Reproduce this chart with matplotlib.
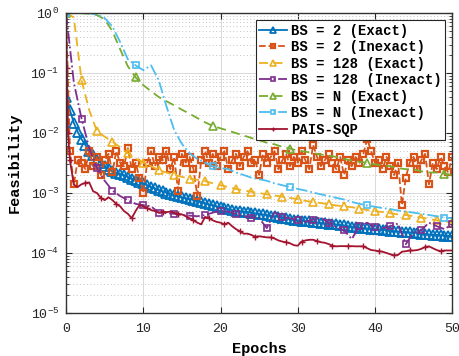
import numpy as np
import matplotlib
matplotlib.use("Agg")
import matplotlib.pyplot as plt
from matplotlib.ticker import LogLocator, FixedLocator

plt.rcParams['font.family'] = ['Liberation Mono', 'DejaVu Sans Mono']
plt.rcParams['mathtext.default'] = 'regular'

# epochs grids
epochs = np.arange(0, 51)
half_epochs = np.arange(0, 50.01, 0.5)
red_epochs = np.concatenate(([0, 0.1, 0.25], np.arange(0.5, 50.01, 0.5)))

# BS = 2 (Exact), half-epoch resolution
bs2_exact = [
    0.0407, 0.024, 0.0148, 0.0105, 0.0079, 0.0063, 0.0051, 0.0043, 0.0036, 0.0032,
    0.0028, 0.0025, 0.00234, 0.00219, 0.00209, 0.002, 0.00186, 0.00174, 0.00166, 0.00155,
    0.00145, 0.00135, 0.00126, 0.0012, 0.00112, 0.00107, 0.00102, 0.00098, 0.00093, 0.00089,
    0.00085, 0.00082, 0.00079, 0.00077, 0.00074, 0.00071, 0.00068, 0.00065, 0.00063, 0.0006,
    0.00058, 0.00056, 0.00054, 0.00052, 0.00051, 0.0005, 0.00049, 0.00048, 0.00047, 0.00046,
    0.00045, 0.00044, 0.00043, 0.00042, 0.00041, 0.0004, 0.00039, 0.00038, 0.00037, 0.00036,
    0.00035, 0.000347, 0.00034, 0.000335, 0.00033, 0.000324, 0.000316, 0.000313, 0.00031, 0.000305,
    0.0003, 0.000295, 0.00029, 0.00028, 0.000275, 0.00027, 0.000263, 0.00026, 0.000257, 0.000254,
    0.00025, 0.000248, 0.000245, 0.00024, 0.000234, 0.000232, 0.000229, 0.000226, 0.000224, 0.000221,
    0.000219, 0.000214, 0.000209, 0.000207, 0.000204, 0.000202, 0.0002, 0.000197, 0.000195, 0.000193,
    0.00019,
]

# BS = 2 (Inexact), half-epoch resolution
bs2_inexact = [
    1.0, 0.005, 0.0014, 0.0035, 0.0032, 0.0025, 0.005, 0.0028, 0.004, 0.002,
    0.0035, 0.0045, 0.0022, 0.005, 0.0032, 0.0028, 0.0056, 0.0025, 0.0032, 0.0018,
    0.001, 0.0032, 0.005, 0.0028, 0.004, 0.0035, 0.005, 0.0025, 0.004, 0.0011,
    0.0045, 0.0032, 0.004, 0.0025, 0.0009, 0.0035, 0.005, 0.0032, 0.0045, 0.0028,
    0.004, 0.005, 0.0025, 0.0035, 0.0045, 0.0028, 0.004, 0.005, 0.0032, 0.0035,
    0.002, 0.0045, 0.0032, 0.004, 0.005, 0.0025, 0.0035, 0.0045, 0.0028, 0.004,
    0.0032, 0.005, 0.0035, 0.0025, 0.0063, 0.004, 0.0028, 0.0035, 0.0045, 0.0032,
    0.0025, 0.004, 0.002, 0.0035, 0.0028, 0.004, 0.0032, 0.0045, 0.008, 0.005,
    0.0032, 0.0035, 0.0025, 0.004, 0.0028, 0.002, 0.0032, 0.00063, 0.0018, 0.0032,
    0.004, 0.0025, 0.0035, 0.0045, 0.0014, 0.0032, 0.0025, 0.004, 0.0028, 0.0022,
    0.004,
]

# BS = 128 (Exact), per epoch
bs128_exact = [
    1.0, 0.85, 0.076, 0.024, 0.0107, 0.0087, 0.0072, 0.0058, 0.0046, 0.0038,
    0.0032, 0.0028, 0.0024, 0.0022, 0.002, 0.00186, 0.00174, 0.00166, 0.00158, 0.00145,
    0.00135, 0.00126, 0.00117, 0.0011, 0.00105, 0.001, 0.00095, 0.00091, 0.00087, 0.00083,
    0.00079, 0.00074, 0.00071, 0.00068, 0.00065, 0.00062, 0.0006, 0.00058, 0.00055, 0.00052,
    0.0005, 0.00048, 0.00046, 0.00044, 0.00043, 0.00041, 0.00039, 0.00037, 0.00035, 0.00034,
    0.00032,
]

# BS = 128 (Inexact), per epoch
bs128_inexact = [
    1.0, 0.07, 0.0174, 0.0056, 0.0026, 0.0016, 0.0011, 0.00089, 0.00076, 0.00066,
    0.00063, 0.0006, 0.00047, 0.00046, 0.00045, 0.00043, 0.00042, 0.00041, 0.00043, 0.00047,
    0.00051, 0.00049, 0.00045, 0.00041, 0.00039, 0.00038, 0.00026, 0.00048, 0.0004, 0.00038,
    0.00035, 0.00033, 0.00036, 0.00039, 0.00032, 0.00027, 0.00024, 0.00017, 0.00028, 0.00032,
    0.00027, 0.00026, 0.00028, 0.00031, 0.00014, 0.00022, 0.00024, 0.00032, 0.00028, 0.00025,
    0.0003,
]

# BS = N (Exact), per epoch
bsn_exact = [
    1.0, 1.0, 1.0, 0.98, 0.93, 0.79, 0.5, 0.25, 0.13, 0.085,
    0.063, 0.05, 0.04, 0.034, 0.029, 0.0245, 0.021, 0.0178, 0.0151, 0.0132,
    0.012, 0.011, 0.01, 0.0091, 0.0083, 0.0076, 0.0069, 0.0065, 0.0059, 0.0055,
    0.0051, 0.0049, 0.0046, 0.0044, 0.0042, 0.004, 0.0037, 0.0035, 0.0033, 0.0032,
    0.003, 0.0029, 0.0028, 0.0026, 0.0025, 0.0025, 0.0023, 0.0022, 0.0022, 0.0021,
    0.002,
]

# BS = N (Inexact), per epoch
bsn_inexact = [
    1.0, 1.0, 1.0, 1.0, 0.95, 0.83, 0.6, 0.33, 0.17, 0.135,
    0.112, 0.135, 0.076, 0.028, 0.0112, 0.0066, 0.0046, 0.0037, 0.0032, 0.0028,
    0.0026, 0.0025, 0.0022, 0.002, 0.0018, 0.0017, 0.0016, 0.00145, 0.00135, 0.00126,
    0.00117, 0.0011, 0.00102, 0.00095, 0.00089, 0.00083, 0.00078, 0.00071, 0.00066, 0.00062,
    0.00059, 0.00056, 0.00054, 0.00051, 0.00049, 0.00047, 0.00045, 0.00043, 0.00041, 0.00039,
    0.00038,
]

# PAIS-SQP
pais_sqp = [
    1.0, 0.12, 0.01,
    0.0035, 0.00138, 0.00126, 0.0014, 0.00148, 0.0015, 0.00107, 0.001, 0.00083, 0.00076,
    0.00085, 0.00076, 0.00066, 0.0006, 0.0005, 0.00045, 0.00038, 0.0005, 0.00063, 0.0006,
    0.00056, 0.00052, 0.0005, 0.00047, 0.00049, 0.00048, 0.00049, 0.00047, 0.00045, 0.00044,
    0.00041, 0.00038, 0.00035, 0.00032, 0.0003, 0.0004, 0.00038, 0.00035, 0.00033, 0.00032,
    0.0003, 0.00032, 0.00028, 0.00025, 0.00023, 0.00021, 0.00021, 0.0002, 0.000186, 0.00019,
    0.000186, 0.000182, 0.000182, 0.000174, 0.000162, 0.000155, 0.000151, 0.000145, 0.000135, 0.000132,
    0.000155, 0.000162, 0.000166, 0.000166, 0.000158, 0.000151, 0.000148, 0.000141, 0.000132, 0.000129,
    0.00013, 0.00013, 0.00013, 0.00013, 0.000129, 0.000129, 0.000129, 0.00012, 0.000112, 0.00011,
    0.000107, 0.000105, 0.0001, 0.000095, 0.000091, 0.000093, 0.000105, 0.000107, 0.00011, 0.00011,
    0.000112, 0.000117, 0.000126, 0.000129, 0.00012, 0.000112, 0.000107, 0.00011, 0.00011, 0.00011,
]

labels = ["BS = 2 (Exact)", "BS = 2 (Inexact)", "BS = 128 (Exact)", "BS = 128 (Inexact)",
          "BS = N (Exact)", "BS = N (Inexact)", "PAIS-SQP"]
colors = ["#0072BD", "#D95319", "#EDB120", "#7E2F8E", "#77AC30", "#4DBEEE", "#A2142F"]
y_ticks = [1e-5, 1e-4, 1e-3, 1e-2, 1e-1, 1]
y_tick_labels = [r'$10^{-5}$', r'$10^{-4}$', r'$10^{-3}$', r'$10^{-2}$', r'$10^{-1}$', r'$10^{0}$']

fig = plt.figure(figsize=(4.59, 3.56), dpi=100)
ax = fig.add_axes([0.144, 0.121, 0.841, 0.842])

lw = 1.3
ax.plot(half_epochs, bs2_exact, '-', color=colors[0], lw=lw, marker='^', ms=6.5,
        mfc='none', mew=1.3, label=labels[0])
ax.plot(half_epochs, bs2_inexact, '--', color=colors[1], lw=lw, marker='s', ms=5,
        mfc='none', mew=1.6, label=labels[1])
ax.plot(epochs, bs128_exact, '--', color=colors[2], lw=lw, dashes=(5, 3), marker='^', ms=6,
        mfc='none', mew=1.2, markevery=2, label=labels[2])
ax.plot(epochs, bs128_inexact, '-.', color=colors[3], lw=lw, marker='s', ms=5,
        mfc='none', mew=1.2, markevery=2, label=labels[3])
ax.plot(epochs, bsn_exact, '--', color=colors[4], lw=lw, dashes=(5, 3), marker='^', ms=6,
        mfc='none', mew=1.2, markevery=[0, 9, 19, 29, 39, 49], label=labels[4])
ax.plot(epochs, bsn_inexact, '-.', color=colors[5], lw=lw, marker='s', ms=5,
        mfc='none', mew=1.2, markevery=[0, 9, 19, 29, 39, 49], label=labels[5])
ax.plot(red_epochs, pais_sqp, '-', color=colors[6], lw=lw, marker='+', ms=5,
        mew=1.0, markevery=[0, 1, 2] + list(range(3, len(pais_sqp), 4)), label=labels[6])

ax.set_yscale('log')
ax.set_xlim(0, 50)
ax.set_ylim(1e-5, 1)
ax.xaxis.set_major_locator(FixedLocator([0, 10, 20, 30, 40, 50]))
ax.yaxis.set_minor_locator(LogLocator(base=10, subs=np.arange(2, 10), numticks=20))
ax.set_yticks(y_ticks)
ax.set_yticklabels(y_tick_labels)

ax.grid(True, which='major', color='#d9d9d9', lw=0.7, ls='-')
ax.grid(True, which='minor', axis='y', color='#c4c4c4', lw=0.7, ls=(0, (1, 2.5)))
ax.set_axisbelow(True)

ax.tick_params(which='both', direction='in', top=True, right=True, colors='#262626',
               labelsize=9.5)
ax.tick_params(which='major', length=4)
ax.tick_params(axis='x', which='major', pad=7)
ax.tick_params(axis='y', which='major', pad=5)
ax.tick_params(which='minor', length=2)
for s in ax.spines.values():
    s.set_color('#333333')
    s.set_linewidth(1.0)

ax.set_xlabel("Epochs", fontsize=11, fontweight='bold', labelpad=5)
ax.set_ylabel("Feasibility", fontsize=11, fontweight='bold', labelpad=6)

leg = ax.legend(loc='upper right', prop={'weight': 'bold', 'size': 10},
                fancybox=False, framealpha=1, edgecolor='#262626', markerscale=0.7,
                handlelength=2.0, handletextpad=0.3, borderpad=0.25, labelspacing=0.18,
                borderaxespad=0.5)
leg.get_frame().set_linewidth(0.8)

fig.savefig("out.png", dpi=100)
